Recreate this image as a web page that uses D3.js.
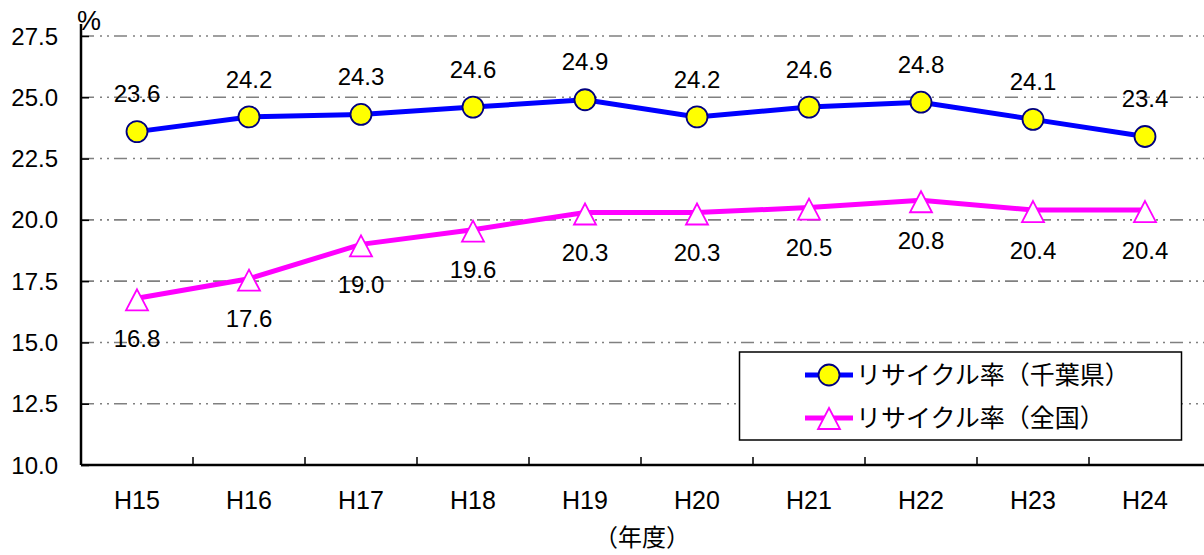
<!DOCTYPE html>
<html>
<head>
<meta charset="utf-8">
<script src="https://cdn.jsdelivr.net/npm/d3@7"></script>
<style>
  body { margin: 0; background: #fff; }
  text { font-family: "Liberation Sans", "Noto Sans CJK JP", sans-serif; fill: #000; }
  .jp { font-family: "Noto Sans CJK JP", sans-serif; }
</style>
</head>
<body>
<svg id="chart" width="1204" height="555"></svg>
<script>
// Fiscal years and recycling rates (%)
const years = ["H15", "H16", "H17", "H18", "H19", "H20", "H21", "H22", "H23", "H24"];
const chibaRate = [23.6, 24.2, 24.3, 24.6, 24.9, 24.2, 24.6, 24.8, 24.1, 23.4];
const nationalRate = [16.8, 17.6, 19.0, 19.6, 20.3, 20.3, 20.5, 20.8, 20.4, 20.4];
const yTicks = [10.0, 12.5, 15.0, 17.5, 20.0, 22.5, 25.0, 27.5];
const seriesNames = ["リサイクル率（千葉県）", "リサイクル率（全国）"];

const svg = d3.select("#chart");
const plotLeft = 81, plotRight = 1201, plotTop = 36, plotBottom = 465;

const x = d3.scaleBand().domain(years).range([plotLeft, plotRight]);
const y = d3.scaleLinear().domain([10, 27.5]).range([plotBottom, plotTop]);
const cx = d => x(d) + x.bandwidth() / 2;

// Grid lines (dash-dot-dot)
svg.append("g").selectAll("line")
  .data(yTicks.filter(v => v > 10))
  .join("line")
  .attr("x1", plotLeft).attr("x2", 1204)
  .attr("y1", d => y(d)).attr("y2", d => y(d))
  .attr("stroke", "#808080").attr("stroke-width", 1.6)
  .attr("stroke-dasharray", "13,6,2,5,2,5");

// Y axis
const yAxis = d3.axisRight(y).tickValues(yTicks).tickSize(8).tickFormat("");
const gy = svg.append("g").attr("transform", `translate(${plotLeft},0)`).call(yAxis);
gy.select(".domain").remove();
gy.selectAll(".tick line").attr("stroke", "#000").attr("stroke-width", 1.5);
svg.append("line").attr("x1", plotLeft).attr("x2", plotLeft).attr("y1", 24).attr("y2", plotBottom)
  .attr("stroke", "#000").attr("stroke-width", 2.5);

svg.append("g").selectAll("text").data(yTicks).join("text")
  .attr("x", 58).attr("y", d => y(d)).attr("dy", "0.36em")
  .attr("text-anchor", "end").attr("font-size", 24)
  .text(d => d.toFixed(1));

svg.append("text").attr("x", 77).attr("y", 30).attr("font-size", 27).text("%");

// X axis
const boundaries = years.slice(1).map(d => x(d));
svg.append("g").selectAll("line").data(boundaries).join("line")
  .attr("x1", d => d).attr("x2", d => d).attr("y1", plotBottom).attr("y2", plotBottom - 8)
  .attr("stroke", "#000").attr("stroke-width", 1.5);
svg.append("line").attr("x1", plotLeft).attr("x2", 1204).attr("y1", plotBottom).attr("y2", plotBottom)
  .attr("stroke", "#000").attr("stroke-width", 2.5);

svg.append("g").selectAll("text").data(years).join("text")
  .attr("x", d => cx(d)).attr("y", 509).attr("text-anchor", "middle")
  .attr("font-size", 25).text(d => d);

svg.append("text").attr("class", "jp").attr("x", 642).attr("y", 546)
  .attr("text-anchor", "middle").attr("font-size", 24).text("（年度）");

// Lines
const line = vals => d3.line().x((d, i) => cx(years[i])).y(d => y(d))(vals);
svg.append("path").attr("d", line(chibaRate)).attr("fill", "none")
  .attr("stroke", "#0000ff").attr("stroke-width", 5);
svg.append("path").attr("d", line(nationalRate)).attr("fill", "none")
  .attr("stroke", "#ff00ff").attr("stroke-width", 5);

// Markers
const tri = "M0,-9L11,12L-11,12Z";
svg.append("g").selectAll("circle").data(chibaRate).join("circle")
  .attr("cx", (d, i) => cx(years[i])).attr("cy", d => y(d)).attr("r", 10.5)
  .attr("fill", "#ffff00").attr("stroke", "#000080").attr("stroke-width", 1.8);
svg.append("g").selectAll("path").data(nationalRate).join("path")
  .attr("d", tri)
  .attr("transform", (d, i) => `translate(${cx(years[i])},${y(d)})`)
  .attr("fill", "#ffffff").attr("stroke", "#ff00ff").attr("stroke-width", 1.8);

// Value labels
svg.append("g").selectAll("text").data(chibaRate).join("text")
  .attr("x", (d, i) => cx(years[i])).attr("y", d => y(d) - 38).attr("dy", "0.36em")
  .attr("text-anchor", "middle").attr("font-size", 24).text(d => d.toFixed(1));
svg.append("g").selectAll("text").data(nationalRate).join("text")
  .attr("x", (d, i) => cx(years[i])).attr("y", d => y(d) + 40).attr("dy", "0.36em")
  .attr("text-anchor", "middle").attr("font-size", 24).text(d => d.toFixed(1));

// Legend
const lg = svg.append("g");
lg.append("rect").attr("x", 739.5).attr("y", 352).attr("width", 442).attr("height", 88)
  .attr("fill", "#fff").attr("stroke", "#000").attr("stroke-width", 1.5);
const rows = [375, 418];
lg.append("line").attr("x1", 805).attr("x2", 853).attr("y1", rows[0]).attr("y2", rows[0])
  .attr("stroke", "#0000ff").attr("stroke-width", 5);
lg.append("circle").attr("cx", 829).attr("cy", rows[0]).attr("r", 10.5)
  .attr("fill", "#ffff00").attr("stroke", "#000080").attr("stroke-width", 1.8);
lg.append("line").attr("x1", 805).attr("x2", 853).attr("y1", rows[1]).attr("y2", rows[1])
  .attr("stroke", "#ff00ff").attr("stroke-width", 5);
lg.append("path").attr("d", tri).attr("transform", `translate(829,${rows[1] - 1})`)
  .attr("fill", "#ffffff").attr("stroke", "#ff00ff").attr("stroke-width", 1.8);
lg.selectAll("text.lab").data(seriesNames).join("text")
  .attr("class", "jp").attr("x", 856).attr("y", (d, i) => rows[i]).attr("dy", "0.36em")
  .attr("font-size", 25).text(d => d);
</script>
</body>
</html>
